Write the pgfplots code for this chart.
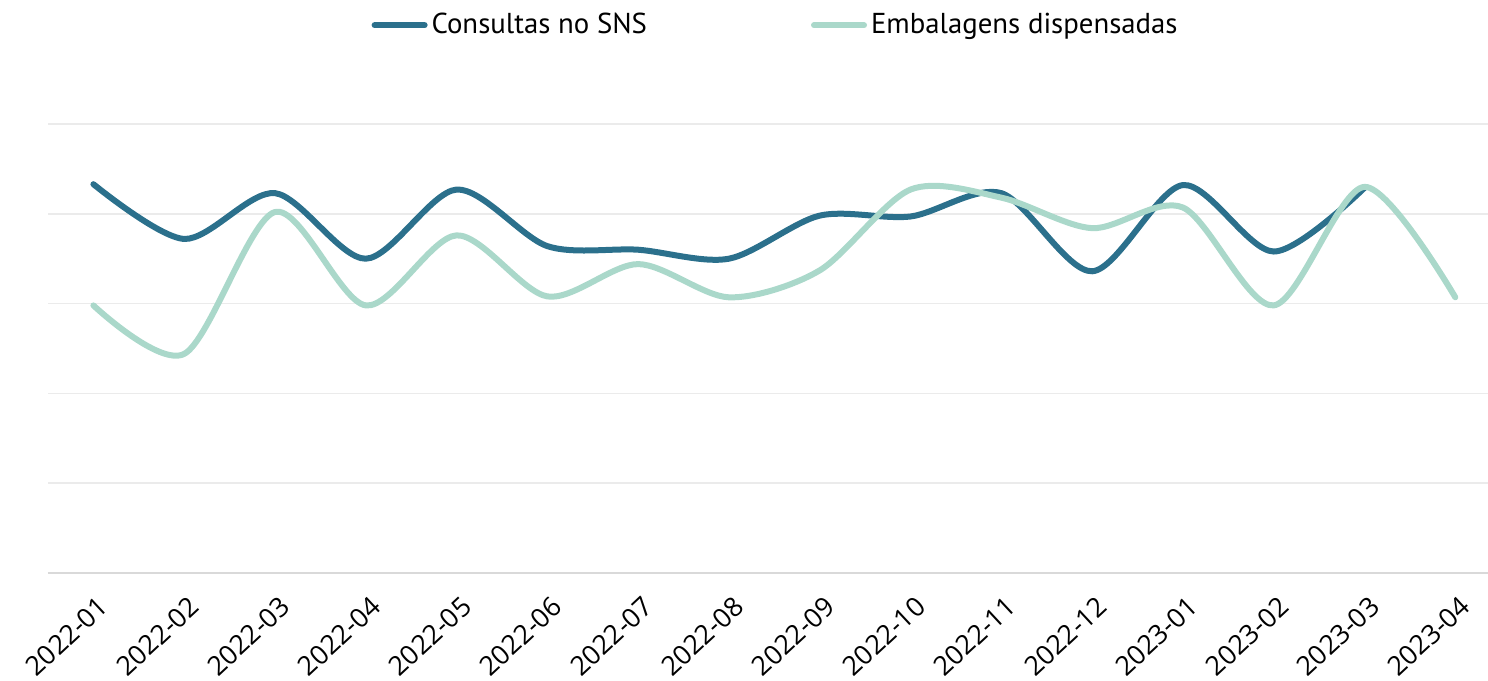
\documentclass[border=0pt]{standalone}
\usepackage{pgfplots}
\pgfplotsset{compat=1.18}
\usepackage{fontspec}
\setmainfont{PT Sans}
\newfontfamily\tickfont{Open Sans}
\definecolor{cdark}{RGB}{43,112,140}
\definecolor{clight}{RGB}{170,216,202}
\definecolor{cgrid}{RGB}{235,235,235}
\definecolor{caxis}{RGB}{217,217,217}
\begin{document}
\begin{tikzpicture}
\begin{axis}[
  name=ax,
  scale only axis,
  width=720pt, height=224.5pt,
  xmin=-0.5, xmax=15.36,
  ymin=0, ymax=5,
  clip=false,
  axis line style={draw=none},
  axis x line*=bottom,
  axis y line*=left,
  ytick={1,2,3,4,5},
  yticklabels={},
  ytick style={draw=none},
  ymajorgrids,
  grid style={cgrid, line width=0.8pt},
  xtick={0,...,15},
  xticklabels={2022-01,2022-02,2022-03,2022-04,2022-05,2022-06,2022-07,2022-08,2022-09,2022-10,2022-11,2022-12,2023-01,2023-02,2023-03,2023-04},
  xtick style={draw=none},
  xticklabel style={font=\tickfont\fontsize{13.4}{14}\selectfont, rotate=43, anchor=north east, inner sep=0pt, yshift=-9pt, xshift=-6pt},
  legend style={draw=none, at={(0.506,1.22)}, anchor=center, legend columns=2,
    font=\fontsize{14.4}{15}\selectfont,
    /tikz/every even column/.append style={column sep=80pt}},
  legend image code/.code={\draw[#1, line width=3pt, line cap=round] (0pt,0pt) -- (25pt,0pt);},
]
\addplot[cdark, line width=3pt, line cap=round, smooth, tension=0.5] coordinates {
(0,4.33) (1,3.72) (2,4.23) (3,3.50) (4,4.27) (5,3.64) (6,3.60) (7,3.50) (8,3.98) (9,3.97) (10,4.23) (11,3.36) (12,4.32) (13,3.58) (14,4.29)
};
\addlegendentry{Consultas no SNS}
\addplot[clight, line width=3pt, line cap=round, smooth, tension=0.5] coordinates {
(0,2.98) (1,2.44) (2,4.02) (3,2.98) (4,3.76) (5,3.08) (6,3.44) (7,3.07) (8,3.37) (9,4.27) (10,4.18) (11,3.84) (12,4.07) (13,2.98) (14,4.30) (15,3.07)
};
\addlegendentry{Embalagens dispensadas}
\draw[caxis, line width=1.2pt] (axis cs:-0.5,0) -- (axis cs:15.36,0);
\end{axis}
\pgfresetboundingbox
\path (ax.south west) ++(-24pt,-53.5pt) rectangle ++(744pt,340pt);
\end{tikzpicture}
\end{document}
